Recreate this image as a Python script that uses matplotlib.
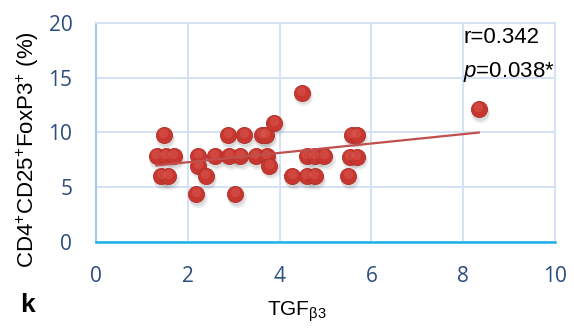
import numpy as np
import matplotlib
matplotlib.use("Agg")
import matplotlib.pyplot as plt
from matplotlib.transforms import offset_copy

# TGF-beta3 level vs Treg fraction, one point per patient
tgf_b3 = [1.48, 1.32, 1.52, 1.69, 1.42, 1.58, 2.23, 2.23, 2.39, 2.19,
          2.59, 2.90, 3.14, 2.88, 3.23, 3.03, 3.48, 3.72, 3.61, 3.70,
          3.77, 3.88, 4.48, 4.28, 4.59, 4.77, 4.59, 4.77, 4.97, 5.50,
          5.57, 5.68, 5.53, 5.68, 8.34]
treg_pct = [9.75, 7.85, 7.85, 7.85, 6.0, 6.0, 7.85, 6.95, 6.0, 4.36,
            7.85, 7.85, 7.85, 9.75, 9.75, 4.36, 7.85, 7.85, 9.75, 9.75,
            6.95, 10.87, 13.6, 6.0, 6.0, 6.0, 7.85, 7.85, 7.85, 6.0,
            9.8, 9.8, 7.8, 7.8, 12.1]
x_ticks = [0, 2, 4, 6, 8, 10]
y_ticks = [0, 5, 10, 15, 20]
r_text = "r=0.342"
p_value = "0.038*"
panel = "k"

plt.rcParams['mathtext.fontset'] = 'custom'
plt.rcParams['mathtext.rm'] = 'Liberation Sans'
plt.rcParams['mathtext.it'] = 'Liberation Sans:italic'

grid_col = "#d3e2f4"
tick_col = "#2b4c7e"
dot_col = "#c8372f"

fig = plt.figure(figsize=(5.74, 3.30), dpi=100)
ax = fig.add_axes([0.1672, 0.2658, 0.7997, 0.6654])

x = np.array(tgf_b3)
y = np.array(treg_pct)

# soft drop shadow under the dots
for dx, dy, a, s in [(1.5, -3.5, 0.10, 190), (1.0, -2.5, 0.12, 150)]:
    sh = offset_copy(ax.transData, fig=fig, x=dx, y=dy, units='dots')
    ax.scatter(x, y, s=s, color="#555555", alpha=a, linewidths=0,
               transform=sh, zorder=2)

ax.scatter(x, y, s=135, color=dot_col, edgecolors="#b02e29",
           linewidths=0.6, zorder=3)
# small highlight towards the top of each dot
hl = offset_copy(ax.transData, fig=fig, x=-0.5, y=2.0, units='dots')
ax.scatter(x, y, s=45, color="#e0675f", alpha=0.35, linewidths=0,
           transform=hl, zorder=4)

# linear trend line across the data range
k, b = np.polyfit(x, y, 1)
xl = np.array([x.min(), x.max()])
ax.plot(xl, k * xl + b, color="#c0504d", lw=1.6, zorder=5)

ax.set_xlim(0, 10)
ax.set_ylim(0, 20)
ax.set_xticks(x_ticks)
ax.set_yticks(y_ticks)
ax.grid(True, color=grid_col, lw=1.4)
ax.set_axisbelow(True)
ax.tick_params(length=0, labelsize=15, labelcolor=tick_col, pad=17)
for lab in ax.get_xticklabels() + ax.get_yticklabels():
    lab.set_fontfamily('Open Sans')

ax.spines['top'].set_color(grid_col)
ax.spines['right'].set_color(grid_col)
ax.spines['top'].set_linewidth(1.4)
ax.spines['right'].set_linewidth(1.4)
ax.spines['left'].set_color("#a9c8ec")
ax.spines['left'].set_linewidth(1.6)
ax.spines['bottom'].set_color("#1cb0e8")
ax.spines['bottom'].set_linewidth(1.8)

ax.set_xlabel(r'TGF$_{\mathrm{β3}}$', fontsize=15, family='Liberation Sans')
ax.xaxis.set_label_coords(0.438, -0.262)
ax.set_ylabel(r'CD4$^{+}$CD25$^{+}$FoxP3$^{+}$ (%)', fontsize=16,
              family='Liberation Sans')
ax.yaxis.set_label_coords(-0.12, 0.42)

ax.text(0.80, 0.907, r_text, transform=ax.transAxes, fontsize=16,
        family='Liberation Sans', va='baseline')
ax.text(0.80, 0.753, r'$p$=' + p_value, transform=ax.transAxes,
        fontsize=16, family='Liberation Sans', va='baseline')

fig.text(0.048, 0.075, panel, fontsize=19, fontweight='bold',
         family='Liberation Sans', ha='center', va='center')

fig.savefig("out.png", dpi=100)
